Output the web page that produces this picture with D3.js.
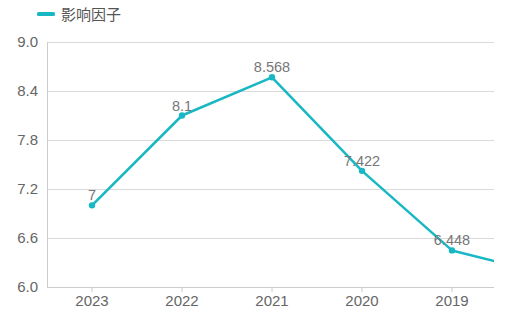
<!DOCTYPE html>
<html>
<head>
<meta charset="utf-8">
<script src="https://cdn.jsdelivr.net/npm/d3@7"></script>
<style>
  body { margin: 0; background: #fff; }
  text { font-family: "Liberation Sans", Arial, sans-serif; }
</style>
</head>
<body>
<svg id="graph"></svg>
<script>
// data
var years = ["2023", "2022", "2021", "2020", "2019", "2018"];
var factor = [7, 8.1, 8.568, 7.422, 6.448, 6.17];
var yTicks = [6.0, 6.6, 7.2, 7.8, 8.4, 9.0];
var seriesName = "影响因子";

var color = "#17b8c4";

var svg = d3.select("#graph")
    .attr("width", 506)
    .attr("height", 316);

var margin = {top: 42, right: 12, bottom: 29, left: 47},
    width = 506 - margin.left - margin.right,
    height = 316 - margin.top - margin.bottom;

// 5 visible bands of 90px, the last year falls outside the plot
var step = 90;
var x = d3.scaleBand().domain(years).range([0, step * years.length]),
    y = d3.scaleLinear().domain([6.0, 9.0]).range([height, 0]);

var g = svg.append("g")
    .attr("transform", "translate(" + margin.left + "," + margin.top + ")");

svg.append("defs").append("clipPath").attr("id", "plot")
  .append("rect").attr("width", width).attr("height", height + 10).attr("y", -10);

// grid
g.append("g")
    .selectAll("line")
    .data(yTicks.slice(1))
    .enter().append("line")
    .attr("x1", 0).attr("x2", width)
    .attr("y1", function(d) { return y(d) + 0.5; })
    .attr("y2", function(d) { return y(d) + 0.5; })
    .attr("stroke", "#dadada");

// y axis
var yaxis = g.append("g")
    .call(d3.axisLeft(y).tickValues(yTicks).tickFormat(d3.format(".1f")).tickSize(0).tickPadding(9));
yaxis.select(".domain").attr("stroke", "#ccc").attr("d", "M0.5,0V" + height);
yaxis.selectAll("text").attr("fill", "#666").style("font-size", "15px");

// x axis
var xaxis = g.append("g")
    .attr("transform", "translate(0," + height + ")")
    .call(d3.axisBottom(x).tickSize(5).tickPadding(3));
xaxis.select(".domain").attr("stroke", "#ccc").attr("d", "M0,0.5H" + width);
xaxis.selectAll(".tick line").attr("stroke", "#ccc");
xaxis.selectAll(".tick").filter(function(d) { return x(d) > width; }).remove();
xaxis.selectAll("text").attr("fill", "#666").style("font-size", "15px");

var cx = function(d, i) { return x(years[i]) + x.bandwidth() / 2; };

var plot = g.append("g").attr("clip-path", "url(#plot)");

plot.append("path")
    .datum(factor)
    .attr("fill", "none")
    .attr("stroke", color)
    .attr("stroke-width", 2.5)
    .attr("stroke-linejoin", "round")
    .attr("d", d3.line().x(cx).y(function(d) { return y(d); }));

// only points inside the visible window
var shown = factor.map(function(d, i) { return {v: d, i: i}; })
    .filter(function(p) { return cx(p.v, p.i) < width; });

plot.selectAll(".dot")
    .data(shown)
    .enter().append("circle")
    .attr("cx", function(p) { return cx(p.v, p.i); })
    .attr("cy", function(p) { return y(p.v); })
    .attr("r", 3.2)
    .attr("fill", color);

plot.selectAll(".lbl")
    .data(shown)
    .enter().append("text")
    .attr("x", function(p) { return cx(p.v, p.i); })
    .attr("y", function(p) { return y(p.v) - 5; })
    .attr("text-anchor", "middle")
    .attr("fill", "#777")
    .style("font-size", "14.5px")
    .text(function(p) { return p.v; });

// legend
var legend = svg.append("g").attr("transform", "translate(37,14)");
legend.append("rect")
    .attr("x", 0).attr("y", -2).attr("width", 18).attr("height", 4).attr("rx", 1.5)
    .attr("fill", color);
legend.append("text")
    .attr("x", 24).attr("y", 5.5)
    .attr("fill", "#555")
    .style("font-size", "15px")
    .style("font-family", "'Noto Sans CJK SC', sans-serif")
    .text(seriesName);
</script>
</body>
</html>
